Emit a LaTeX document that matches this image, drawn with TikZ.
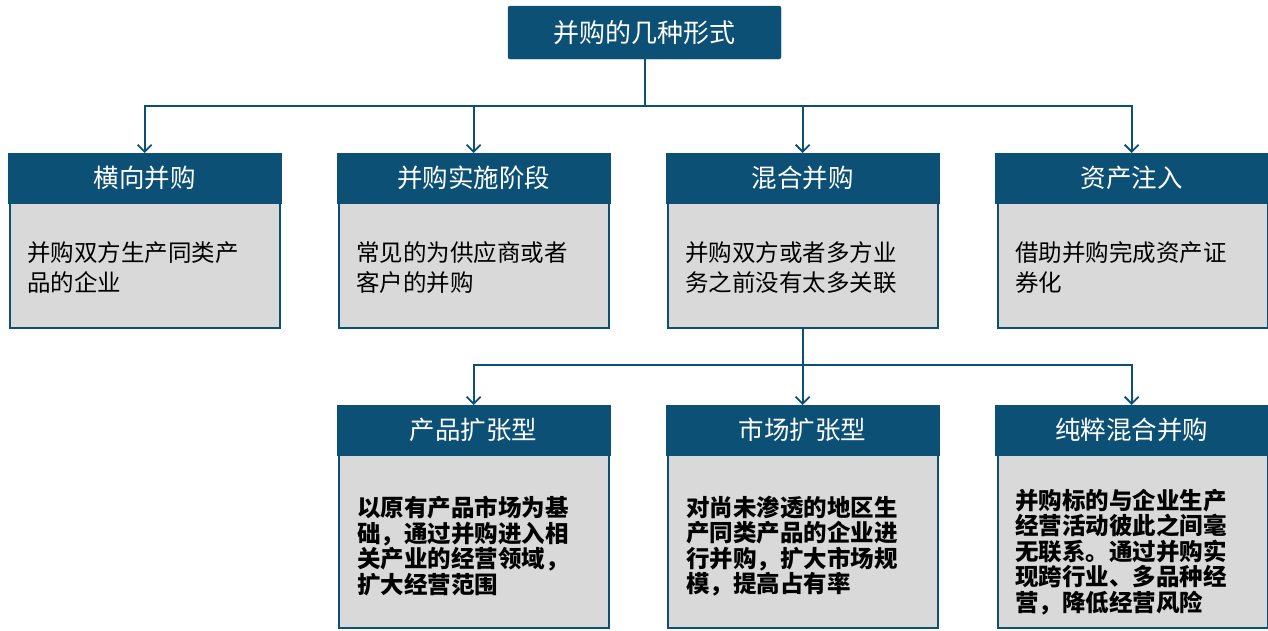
\documentclass[tikz,border=0pt]{standalone}
\usepackage{fontspec}
\newfontfamily\cjk{Noto Sans CJK SC}
\usetikzlibrary{arrows.meta}
\definecolor{navy}{RGB}{12,80,118}
\definecolor{panel}{RGB}{217,217,217}
\tikzset{
  hdr/.style={fill=navy, draw=navy, text=white, font=\cjk\fontsize{25.5}{30}\selectfont, minimum width=273pt, minimum height=50pt, anchor=north west, inner sep=0pt},
  panelbox/.style={fill=panel, draw=navy, line width=2pt, minimum width=270pt, anchor=north west, inner sep=0pt},
  toptxt/.style={font=\cjk\fontsize{23.5}{30}\selectfont, align=left, anchor=west, inner sep=0pt},
  bottxt/.style={font=\cjk\bfseries\fontsize{23.5}{25.5}\selectfont, align=left, anchor=west, inner sep=0pt},
  arr/.style={draw=navy, line width=2pt, -{Straight Barb[length=7pt,width=14pt,line width=1.8pt]}},
}
\begin{document}
\begin{tikzpicture}[x=1pt,y=-1pt]
\useasboundingbox (0,0) rectangle (1268,630);
% top
\node[fill=navy, draw=navy, rounded corners=2pt, text=white, font=\cjk\fontsize{26}{30}\selectfont, minimum width=273pt, minimum height=53pt, inner sep=0pt] (T) at (644.5,32.5) {并购的几种形式};
\coordinate (bus) at (0,106);
\coordinate (bus2) at (0,365);
% row 1
\node[panelbox, minimum height=127pt] (p1) at (9,200) {};
\node[hdr] (h1) at (8,153) {横向并购};
\node[toptxt] (t1) at ([xshift=18pt,yshift=-3pt]p1.west) {并购双方生产同类产\\品的企业};

\node[panelbox, minimum height=127pt] (p2) at (338,200) {};
\node[hdr] (h2) at (337,153) {并购实施阶段};
\node[toptxt] (t2) at ([xshift=18pt,yshift=-3pt]p2.west) {常见的为供应商或者\\客户的并购};

\node[panelbox, minimum height=127pt] (p3) at (667,200) {};
\node[hdr] (h3) at (666,153) {混合并购};
\node[toptxt] (t3) at ([xshift=18pt,yshift=-3pt]p3.west) {并购双方或者多方业\\务之前没有太多关联};

\node[panelbox, minimum height=127pt] (p4) at (997,200) {};
\node[hdr] (h4) at (995,153) {资产注入};
\node[toptxt] (t4) at ([xshift=18pt,yshift=-3pt]p4.west) {借助并购完成资产证\\券化};

% row 2
\node[panelbox, minimum height=174pt] (q1) at (338,453) {};
\node[hdr] (g1) at (337,405) {产品扩张型};
\node[bottxt] (s1) at ([xshift=19pt,yshift=-5pt]q1.west) {以原有产品市场为基\\础，通过并购进入相\\关产业的经营领域，\\扩大经营范围};

\node[panelbox, minimum height=174pt] (q2) at (667,453) {};
\node[hdr] (g2) at (666,405) {市场扩张型};
\node[bottxt] (s2) at ([xshift=19pt,yshift=-5pt]q2.west) {对尚未渗透的地区生\\产同类产品的企业进\\行并购，扩大市场规\\模，提高占有率};

\node[panelbox, minimum height=174pt] (q3) at (997,453) {};
\node[hdr] (g3) at (995,405) {纯粹混合并购};
\node[bottxt] (s3) at ([xshift=18pt,yshift=-11pt]q3.west) {并购标的与企业生产\\经营活动彼此之间毫\\无联系。通过并购实\\现跨行业、多品种经\\营，降低经营风险};

% connectors
\draw[arr] (T.south) -- (T.south |- bus) -| (h1.north);
\draw[arr] (T.south) -- (T.south |- bus) -| (h2.north);
\draw[arr] (T.south) -- (T.south |- bus) -| (h3.north);
\draw[arr] (T.south) -- (T.south |- bus) -| (h4.north);
\draw[arr] (p3.south) -- (p3.south |- bus2) -| (g1.north);
\draw[arr] (p3.south) -- (p3.south |- bus2) -| (g2.north);
\draw[arr] (p3.south) -- (p3.south |- bus2) -| (g3.north);
\end{tikzpicture}
\end{document}
